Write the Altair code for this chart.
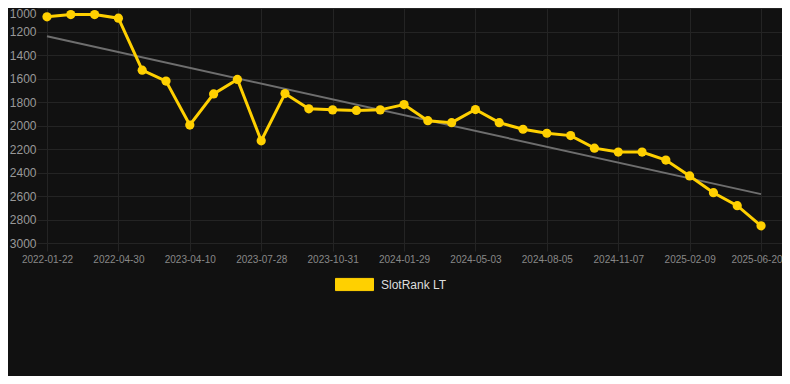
import altair as alt
import pandas as pd

# ---- data ----
tick_labels = ["2022-01-22", "2022-04-30", "2023-04-10", "2023-07-28", "2023-10-31",
               "2024-01-29", "2024-05-03", "2024-08-05", "2024-11-07", "2025-02-09",
               "2025-06-20"]
ranks = [1075, 1056, 1056, 1087, 1529, 1622, 1996, 1731, 1608, 2130,
         1728, 1858, 1867, 1872, 1867, 1822, 1959, 1976, 1864, 1976,
         2032, 2066, 2086, 2193, 2226, 2226, 2294, 2429, 2572, 2682, 2854]
series_name = "SlotRank LT"
trend_index = [0, 30]
trend_values = [1240, 2584]

df = pd.DataFrame({"i": list(range(len(ranks))), "rank": ranks, "series": series_name})
trend_df = pd.DataFrame({"i": trend_index, "rank": trend_values})

BG = "#111111"
GRID = "#242424"
YELLOW = "#FFD000"

label_expr = "[" + ",".join(f"'{l}'" for l in tick_labels) + "][round(datum.value/3)]"

x_scale = alt.Scale(domain=[0, 30.88], nice=False, zero=False)
y_scale = alt.Scale(domain=[1000, 3000], reverse=True, nice=False, zero=False)

x_axis = alt.Axis(values=list(range(0, 31, 3)), labelExpr=label_expr, title=None,
                  grid=True, gridColor=GRID, tickColor=GRID, tickSize=8, domain=False,
                  labelFontSize=10, labelColor="#888888", labelPadding=3,
                  labelFlush=False, labelOverlap=False,
                  labelAlign=alt.condition("datum.value == 30", alt.value("right"), alt.value("center")),
                  labelOffset=alt.condition("datum.value == 30", alt.value(21), alt.value(0)),
                  labelFont="Liberation Sans")
y_axis = alt.Axis(values=list(range(1000, 3001, 200)), format="d", title=None,
                  grid=True, gridColor=GRID, tickColor=GRID, tickSize=10, domain=False,
                  labelFontSize=12, labelColor="#999999", labelPadding=1,
                  labelFlush=False, labelOverlap=False,
                  labelBaseline=alt.condition("datum.value == 1000", alt.value("top"), alt.value("middle")),
                  labelFont="Liberation Sans")

legend = alt.Legend(title=None, orient="none", legendX=288, legendY=257,
                    symbolType="M-1,-0.32H1V0.32H-1Z", symbolSize=1444,
                    symbolFillColor=YELLOW, symbolStrokeColor="#c9a300",
                    symbolStrokeWidth=1, symbolOpacity=1, labelOffset=7, padding=0,
                    labelFontSize=12, labelColor="#dddddd",
                    labelFont="Liberation Sans")
color_scale = alt.Scale(domain=[series_name], range=[YELLOW])

X = alt.X("i:Q", scale=x_scale, axis=x_axis)
Y = alt.Y("rank:Q", scale=y_scale, axis=y_axis)

trend = alt.Chart(trend_df).mark_line(color="#6e6e6e", strokeWidth=2).encode(x=X, y=Y)

line = alt.Chart(df).mark_line(strokeWidth=3).encode(
    x=X, y=Y,
    color=alt.Color("series:N", scale=color_scale, legend=legend),
)

points = alt.Chart(df).mark_circle(size=85, opacity=1).encode(
    x=X, y=Y,
    color=alt.Color("series:N", scale=color_scale, legend=legend),
)

chart = alt.layer(trend, line, points).properties(
    width=735, height=235,
    autosize=alt.AutoSizeParams(type="none"),
    padding={"left": 39, "top": 0, "right": 0, "bottom": 133},
    background=BG,
).configure_view(stroke=None)

chart.save("out.html", embed_options={"renderer": "svg", "actions": False})
